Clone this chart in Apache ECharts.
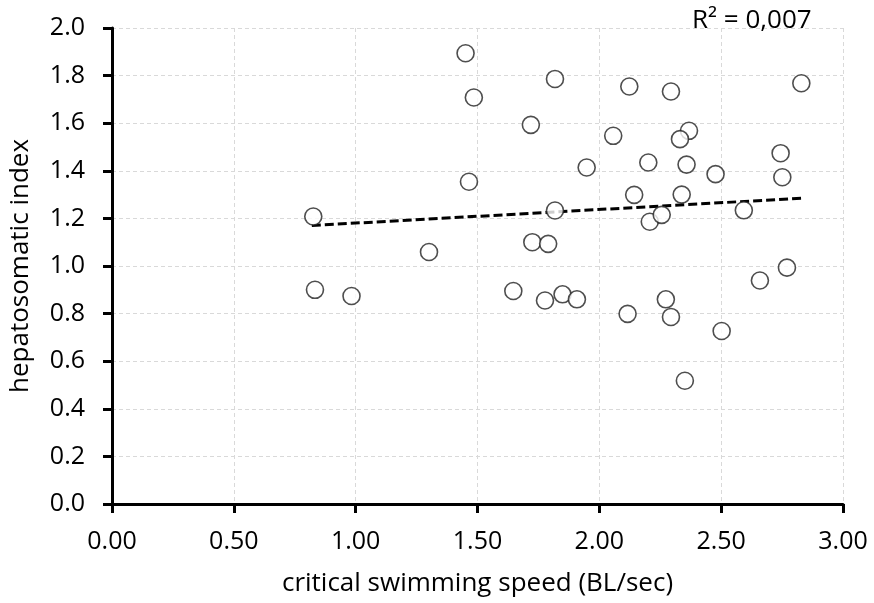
<!DOCTYPE html>
<html>
<head>
<meta charset="utf-8">
<script src="https://cdn.jsdelivr.net/npm/echarts@6/dist/echarts.min.js"></script>
<style>
html,body{margin:0;padding:0;background:#fff;}
#chart{width:874px;height:603px;}
</style>
</head>
<body>
<div id="chart"></div>
<script>
// critical swimming speed (BL/sec)
const speed = [0.826,0.833,0.983,1.301,1.451,1.485,1.465,1.818,2.123,1.719,
               2.057,1.948,2.201,2.143,1.818,2.207,1.725,1.790,1.647,1.777,
               1.849,1.908,2.116,2.294,2.829,2.368,2.331,2.744,2.358,2.477,
               2.751,2.338,2.256,2.593,2.770,2.659,2.273,2.294,2.502,2.351];
// hepatosomatic index
const hsi   = [1.208,0.900,0.874,1.059,1.894,1.708,1.354,1.786,1.754,1.593,
               1.547,1.414,1.435,1.299,1.233,1.186,1.100,1.093,0.895,0.855,
               0.881,0.860,0.799,1.733,1.768,1.568,1.533,1.474,1.426,1.386,
               1.373,1.300,1.215,1.234,0.993,0.939,0.860,0.786,0.727,0.518];
// linear trend line endpoints
const trendX = [0.82, 2.834];
const trendY = [1.170, 1.285];
const r2Label = 'R² = 0,007';
const xName = 'critical swimming speed (BL/sec)';
const yName = 'hepatosomatic index';

const FONT = 'Open Sans';
const chart = echarts.init(document.getElementById('chart'), null, {renderer:'canvas'});
const points = speed.map((x,i)=>[x,hsi[i]]);
const trend = trendX.map((x,i)=>[x,trendY[i]]);

chart.setOption({
  animation:false,
  backgroundColor:'#fff',
  grid:{left:112,right:31,top:28,bottom:99,containLabel:false},
  xAxis:{
    type:'value',min:0,max:3,interval:0.5,
    name:xName,nameLocation:'middle',nameGap:67,
    nameTextStyle:{fontFamily:FONT,fontSize:26,color:'#000'},
    axisLine:{show:true,onZero:false,lineStyle:{color:'#000',width:3}},
    axisTick:{show:true,length:9,lineStyle:{color:'#000',width:3}},
    axisLabel:{fontFamily:FONT,fontSize:25,color:'#000',margin:25,formatter:v=>v.toFixed(2)},
    splitLine:{show:true,lineStyle:{color:'#d9d9d9',width:1,type:[4,3]}}
  },
  yAxis:{
    type:'value',min:0,max:2,interval:0.2,
    name:yName,nameLocation:'middle',nameGap:78,nameRotate:90,
    nameTextStyle:{fontFamily:FONT,fontSize:26,color:'#000'},
    axisLine:{show:true,onZero:false,lineStyle:{color:'#000',width:3}},
    axisTick:{show:true,length:9,lineStyle:{color:'#000',width:3}},
    axisLabel:{fontFamily:FONT,fontSize:25,color:'#000',margin:27,formatter:v=>v.toFixed(1)},
    splitLine:{show:true,lineStyle:{color:'#d9d9d9',width:1,type:[4,3]}}
  },
  graphic:[{
    type:'text',left:692,top:8,z:10,
    style:{text:r2Label,fontFamily:FONT,fontSize:26,fill:'#000'}
  }],
  series:[
    {
      type:'line',data:trend,showSymbol:false,symbol:'none',z:3,
      lineStyle:{color:'#000',width:3,type:[9,4]},
      silent:true
    },
    {
      type:'scatter',data:points,symbol:'circle',symbolSize:17,z:4,
      itemStyle:{color:'#fff',borderColor:'#222',borderWidth:1.6}
    }
  ]
});
</script>
</body>
</html>
